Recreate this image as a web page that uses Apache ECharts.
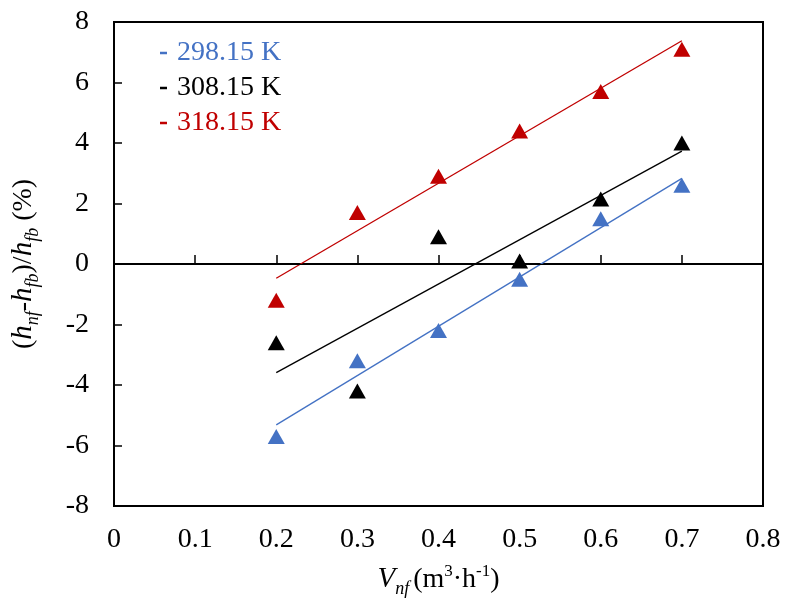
<!DOCTYPE html>
<html>
<head>
<meta charset="utf-8">
<script src="https://cdn.jsdelivr.net/npm/echarts@6/dist/echarts.min.js"></script>
<style>html,body{margin:0;padding:0;background:#fff;}#c{width:794px;height:616px;}</style>
</head>
<body>
<div id="c"></div>
<script>
var xValues = [0.2, 0.3, 0.4, 0.5, 0.6, 0.7];
var series298 = [-5.7, -3.2, -2.2, -0.5, 1.5, 2.6];
var series308 = [-2.6, -4.2, 0.9, 0.1, 2.15, 4.0];
var series318 = [-1.2, 1.7, 2.9, 4.4, 5.7, 7.1];
// trend line end points
var trendX = [0.2, 0.7];
var trend298 = [-5.32, 2.83];
var trend308 = [-3.59, 3.73];
var trend318 = [-0.47, 7.38];
var seriesNames = ['298.15 K', '308.15 K', '318.15 K'];
var colors = ['#4472C4', '#000000', '#C00000'];

function pairs(xs, ys) { return xs.map(function (x, i) { return [x, ys[i]]; }); }

var FONT = 'Liberation Serif';
var FS = 28;
var scatterData = [series298, series308, series318];
var trendData = [trend298, trend308, trend318];
var series = [];
for (var k = 0; k < 3; k++) {
  series.push({
    name: seriesNames[k], type: 'scatter', symbol: 'triangle', symbolSize: [17, 15],
    itemStyle: { color: colors[k], opacity: 1 }, data: pairs(xValues, scatterData[k]), z: 5
  });
}
for (var k2 = 0; k2 < 3; k2++) {
  series.push({
    name: seriesNames[k2] + ' trend', type: 'line', showSymbol: false, symbol: 'none',
    lineStyle: { color: colors[k2], width: 1.3 }, data: pairs(trendX, trendData[k2]), z: 4,
    silent: true
  });
}
series[3].markLine = {
  silent: true, symbol: 'none', label: { show: false },
  lineStyle: { color: '#000', width: 1.2, type: 'solid' },
  data: [{ yAxis: 0 }]
};

var chart = echarts.init(document.getElementById('c'), null, { renderer: 'canvas' });
chart.setOption({
  animation: false,
  backgroundColor: '#fff',
  grid: { left: 114, right: 31, top: 22, bottom: 110, show: true, borderColor: '#000', borderWidth: 2, backgroundColor: 'transparent' },
  legend: {
    data: seriesNames.map(function (n, i) { return { name: n, textStyle: { color: colors[i] } }; }),
    orient: 'vertical', left: 155, top: 34, icon: 'rect', itemWidth: 7, itemHeight: 2.5, itemGap: 7,
    textStyle: { fontFamily: FONT, fontSize: FS, padding: [0, 0, 0, 5] },
    selectedMode: false
  },
  xAxis: {
    type: 'value', min: 0, max: 0.8, interval: 0.1,
    axisLine: { show: true, lineStyle: { color: '#000', width: 2 } },
    axisTick: { show: true, inside: true, length: 9, lineStyle: { color: '#000', width: 1.5 } },
    splitLine: { show: false },
    axisLabel: { color: '#000', fontFamily: FONT, fontSize: FS, margin: 20 },
    name: '{i|V}{s|nf}{n|(m}{p|3}{n|·h}{p|-1}{n|)}',
    nameLocation: 'middle', nameGap: 55,
    nameTextStyle: {
      color: '#000', fontFamily: FONT, fontSize: FS,
      rich: {
        i: { fontFamily: FONT, fontSize: 29, fontStyle: 'italic', color: '#000' },
        s: { fontFamily: FONT, fontSize: 18, fontStyle: 'italic', color: '#000', padding: [19, 4, 0, 0] },
        n: { fontFamily: FONT, fontSize: FS, color: '#000' },
        p: { fontFamily: FONT, fontSize: 17, color: '#000', padding: [0, 0, 15, 0] }
      }
    }
  },
  yAxis: {
    type: 'value', min: -8, max: 8, interval: 2,
    axisLine: { show: true, lineStyle: { color: '#000', width: 2 } },
    axisTick: { show: true, inside: true, length: 8, lineStyle: { color: '#000', width: 1.5 } },
    splitLine: { show: false },
    axisLabel: { color: '#000', fontFamily: FONT, fontSize: FS, margin: 25 },
    name: '{n|(}{i|h}{s|nf}{n|-}{i|h}{s|fb}{n|)/}{i|h}{s|fb}{n| (%)}',
    nameLocation: 'middle', nameGap: 72, nameRotate: 90,
    nameTextStyle: {
      color: '#000', fontFamily: FONT, fontSize: FS,
      rich: {
        i: { fontFamily: FONT, fontSize: 29, fontStyle: 'italic', color: '#000' },
        s: { fontFamily: FONT, fontSize: 18, fontStyle: 'italic', color: '#000', padding: [19, 0, 0, 0] },
        n: { fontFamily: FONT, fontSize: FS, color: '#000' }
      }
    }
  },
  series: series
});
</script>
</body>
</html>
